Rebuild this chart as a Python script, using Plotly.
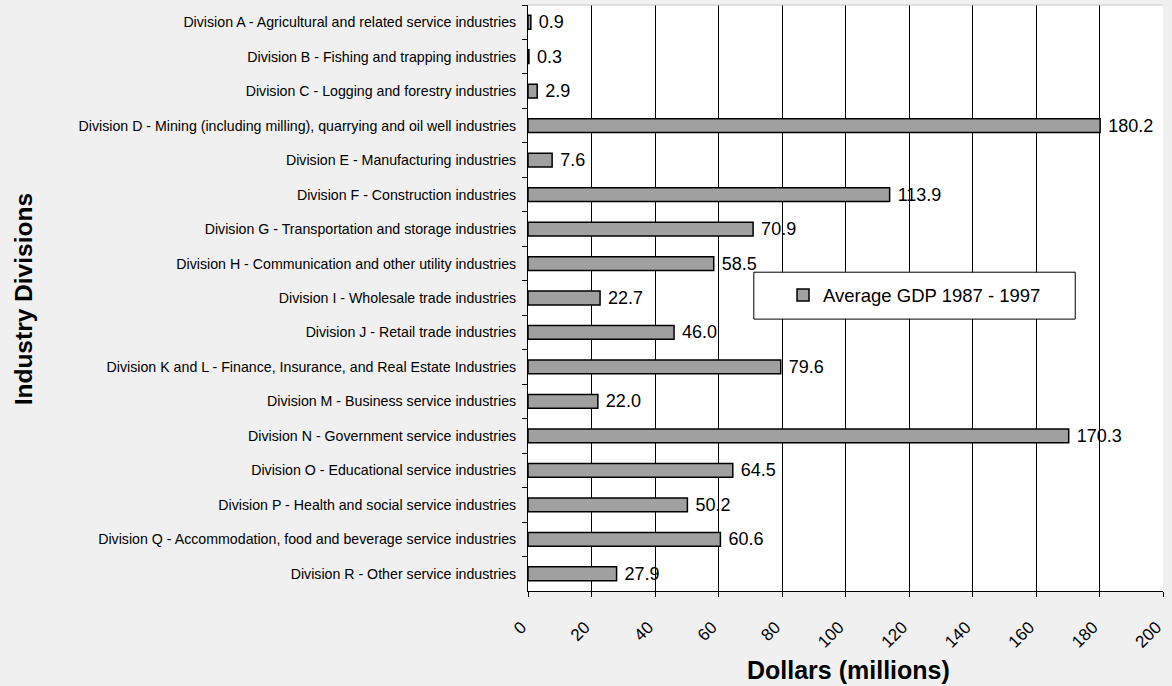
import plotly.graph_objects as go

categories = [
    "Division A - Agricultural and related service industries",
    "Division B - Fishing and trapping industries",
    "Division C - Logging and forestry industries",
    "Division D - Mining (including milling), quarrying and oil well industries",
    "Division E - Manufacturing industries",
    "Division F - Construction industries",
    "Division G - Transportation and storage industries",
    "Division H - Communication and other utility industries",
    "Division I - Wholesale trade industries",
    "Division J - Retail trade industries",
    "Division K and L - Finance, Insurance, and Real Estate Industries",
    "Division M - Business service industries",
    "Division N - Government service industries",
    "Division O - Educational service industries",
    "Division P - Health and social service industries",
    "Division Q - Accommodation, food and beverage service industries",
    "Division R - Other service industries",
]
values = [0.9, 0.3, 2.9, 180.2, 7.6, 113.9, 70.9, 58.5, 22.7, 46.0, 79.6,
          22.0, 170.3, 64.5, 50.2, 60.6, 27.9]
series_name = "Average GDP 1987 - 1997"
x_ticks = [0, 20, 40, 60, 80, 100, 120, 140, 160, 180, 200]

FONT = "Arial, Liberation Sans, sans-serif"

fig = go.Figure()
fig.add_trace(go.Bar(
    y=categories, x=values, orientation="h", name=series_name,
    marker=dict(color="#a0a0a0", line=dict(color="black", width=1.5)),
    width=0.4,
    text=["\u00a0" + f"{v:.1f}" for v in values], textposition="outside",
    textfont=dict(family=FONT, size=18, color="black"),
    constraintext="none",
    cliponaxis=False, showlegend=True,
))

fig.update_layout(
    width=1172, height=686,
    margin=dict(l=528, r=0, t=5, b=95),
    paper_bgcolor="#f0f0f0", plot_bgcolor="white",
    font=dict(family=FONT, color="black"),
    showlegend=True,
    legend=dict(x=0.6087, y=0.5043, xanchor="center", yanchor="middle",
                bgcolor="rgba(0,0,0,0)", borderwidth=0,
                font=dict(family=FONT, size=18.5, color="black")),
    shapes=[
        dict(type="rect", xref="paper", yref="paper", x0=0.3556, x1=0.8618,
             y0=0.464, y1=0.544, fillcolor="white",
             line=dict(color="black", width=1), layer="above"),
        dict(type="line", xref="paper", yref="paper", x0=0, x1=1, y0=1, y1=1,
             line=dict(color="#c8c8c8", width=1), layer="above"),
    ],
    annotations=[
        dict(text="<b>Dollars (millions)</b>", xref="paper", yref="paper",
             x=0.504, y=-0.1348, xanchor="center", yanchor="middle",
             showarrow=False, font=dict(family=FONT, size=25, color="black")),
        dict(text="<b>Industry Divisions</b>", xref="paper", yref="paper",
             x=-0.795, y=0.498, xanchor="center", yanchor="middle", textangle=-90,
             showarrow=False, font=dict(family=FONT, size=24.5, color="black")),
    ],
)

fig.update_xaxes(
    range=[0, 200], tickvals=x_ticks,
    ticktext=[str(t) + "\u00a0\u00a0" for t in x_ticks],
    tickangle=-45, tickfont=dict(family=FONT, size=17, color="black"),
    ticklabeloverflow="allow", ticklabelstandoff=7,
    showgrid=True, gridcolor="black", gridwidth=1,
    showline=True, linecolor="black", linewidth=1,
    ticks="outside", ticklen=5, tickcolor="black", zeroline=False,
)
fig.update_yaxes(
    autorange="reversed", tickson="boundaries",
    ticks="outside", ticklen=5, tickcolor="black",
    ticklabelstandoff=8,
    showline=True, linecolor="black", linewidth=1,
    tickfont=dict(family=FONT, size=14.2, color="black"),
    showgrid=False,
)

fig.write_html("out.html")
